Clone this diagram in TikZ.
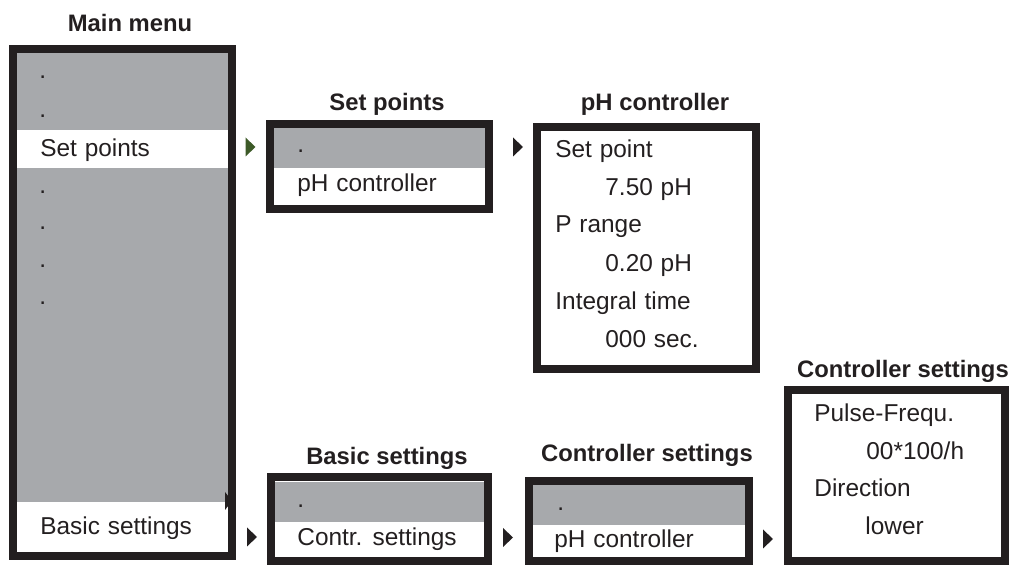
\documentclass[tikz,border=0pt]{standalone}
\usepackage{fontspec}
\setmainfont{Liberation Sans}
\definecolor{menugray}{RGB}{167,169,172}
\definecolor{selgreen}{RGB}{61,90,40}
\definecolor{inkblack}{RGB}{35,31,32}
\newcommand\navmark[2][inkblack]{\fill[#1] (#2) ++(-5,-9.5) -- ++(10,9.5) -- ++(-10,9.5) -- cycle;}
\newcommand\entryfont{\fontsize{12.2}{14}\selectfont\spaceskip=0.32em\relax}

\begin{document}
\begin{tikzpicture}[
      x=0.5pt,y=-0.5pt,
      frame/.style={draw=inkblack,line width=4pt},
      band/.style={fill=menugray},
      entry/.style={
        anchor=base west,inner sep=0pt,text=inkblack,font=\entryfont
      },
      title/.style={
        anchor=base,inner sep=0pt,text=inkblack,font=\fontsize{11.9}{14}\selectfont\bfseries
      },
    ]
    \useasboundingbox (0,0) rectangle (1009,566);
    % main menu
    \fill[band] (17,53) rectangle (228,130);
    \fill[band] (17,168) rectangle (228,502);
    \draw[frame] (13,49) rectangle (232,556);
    \node[title] (mmtitle) at (130,32) {Main menu};
    \node[entry] (mmdot1) at (39,79) {.};
    \node[entry] (mmdot2) at (39,118) {.};
    \node[entry] (mmset) at (40,157) {Set points};
    \node[entry] (mmdot3) at (39,194) {.};
    \node[entry] (mmdot4) at (39,230) {.};
    \node[entry] (mmdot5) at (39,268) {.};
    \node[entry] (mmdot6) at (39,305) {.};
    \node[entry] (mmbasic) at (40,535) {Basic settings};
    \fill[inkblack] (225,492) -- (232,501) -- (225,510) -- cycle;
    % set points
    \fill[band] (274,128) rectangle (485,168);
    \draw[frame] (270,124) rectangle (489,209.5);
    \node[title] (sptitle) at (387,111) {Set points};
    \node[entry] (spdot) at (297,153) {.};
    \node[entry] (spph) at (297,192) {pH controller};
    % pH controller
    \draw[frame] (536.5,127) rectangle (755.5,369.5);
    \node[title] (phtitle) at (655,111) {pH controller};
    \node[entry] (phset) at (555,158) {Set point};
    \node[entry] (phsetval) at (605,196) {7.50 pH};
    \node[entry] (phrange) at (555,233) {P range};
    \node[entry] (phrangeval) at (605,272) {0.20 pH};
    \node[entry] (phint) at (555,310) {Integral time};
    \node[entry] (phintval) at (605,348) {000 sec.};
    % basic settings
    \fill[band] (275,482) rectangle (484,522);
    \draw[frame] (271,477.5) rectangle (488,561.5);
    \node[title] (bstitle) at (387,465) {Basic settings};
    \node[entry] (bsdot) at (297,508) {.};
    \node[entry] (bscontr) at (297,546) {Contr. settings};
    % controller settings
    \fill[band] (533,485) rectangle (745,525);
    \draw[frame] (529,481) rectangle (749,561.5);
    \node[title] (cstitle) at (647,462) {Controller settings};
    \node[entry] (csdot) at (557,511) {.};
    \node[entry] (csph) at (554,548) {pH controller};
    % controller settings, pH
    \draw[frame] (788,390.5) rectangle (1005,561.5);
    \node[title] (pctitle) at (903,378) {Controller settings};
    \node[entry] (pcfreq) at (814,422) {Pulse-Frequ.};
    \node[entry] (pcfreqval) at (866,460) {00*100/h};
    \node[entry] (pcdir) at (814,497) {Direction};
    \node[entry] (pcdirval) at (865,535) {lower};
    % markers
    \coordinate (mk1) at (250.5,147);
    \coordinate (mk2) at (518,147);
    \coordinate (mk3) at (252,537);
    \coordinate (mk4) at (508,537.5);
    \coordinate (mk5) at (768,539);
    \navmark[selgreen]{mk1}
    \navmark{mk2}
    \navmark{mk3}
    \navmark{mk4}
    \navmark{mk5}
  \end{tikzpicture}
\end{document}
